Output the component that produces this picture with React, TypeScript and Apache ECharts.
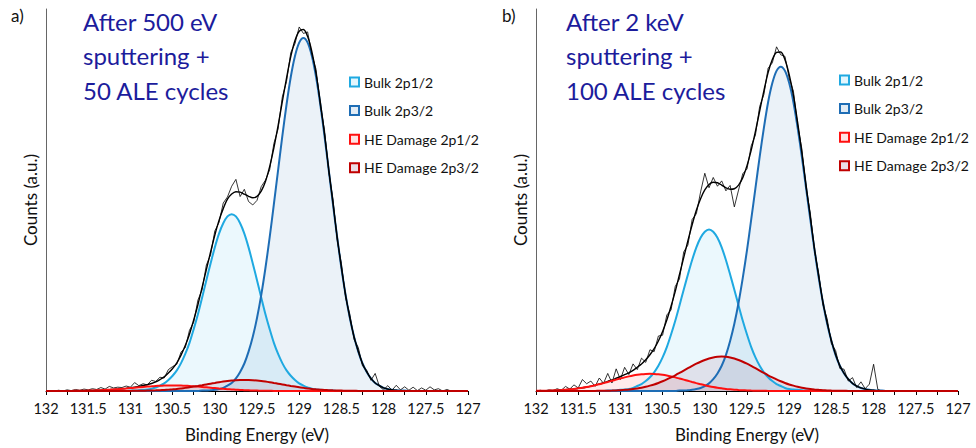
import React, { useEffect, useRef } from "react";
import * as echarts from "echarts";

// Binding energy grid (eV), shared by every series
const ENERGY = [
  132, 131.95, 131.9, 131.85, 131.8, 131.75, 131.7, 131.65, 131.6, 131.55,
  131.5, 131.45, 131.4, 131.35, 131.3, 131.25, 131.2, 131.15, 131.1, 131.05,
  131, 130.95, 130.9, 130.85, 130.8, 130.75, 130.7, 130.65, 130.6, 130.55,
  130.5, 130.45, 130.4, 130.35, 130.3, 130.25, 130.2, 130.15, 130.1, 130.05,
  130, 129.95, 129.9, 129.85, 129.8, 129.75, 129.7, 129.65, 129.6, 129.55,
  129.5, 129.45, 129.4, 129.35, 129.3, 129.25, 129.2, 129.15, 129.1, 129.05,
  129, 128.95, 128.9, 128.85, 128.8, 128.75, 128.7, 128.65, 128.6, 128.55,
  128.5, 128.45, 128.4, 128.35, 128.3, 128.25, 128.2, 128.15, 128.1, 128.05,
  128, 127.95, 127.9, 127.85, 127.8, 127.75, 127.7, 127.65, 127.6, 127.55,
  127.5, 127.45, 127.4, 127.35, 127.3, 127.25, 127.2, 127.15, 127.1, 127.05,
  127,
];

// ---------- Panel a) After 500 eV sputtering + 50 ALE cycles ----------
const A_BULK_2P12 = [
  0, 0, 0, 0, 0, 0, 0, 0, 0, 0,
  0, 0, 0, 0, 0, 0, 0, 0, 0, 0,
  0.1, 0.1, 0.2, 0.3, 0.4, 0.6, 0.9, 1.4, 2.0, 2.9,
  4.0, 5.4, 7.3, 9.7, 12.6, 16.2, 20.1, 24.5, 29.0, 33.4,
  37.6, 41.2, 43.9, 45.7, 46.3, 45.7, 43.9, 41.2, 37.6, 33.4,
  29.0, 24.5, 20.1, 16.2, 12.6, 9.7, 7.3, 5.4, 4.0, 2.9,
  2.0, 1.4, 0.9, 0.6, 0.4, 0.3, 0.2, 0.1, 0.1, 0,
  0, 0, 0, 0, 0, 0, 0, 0, 0, 0,
  0, 0, 0, 0, 0, 0, 0, 0, 0, 0,
  0, 0, 0, 0, 0, 0, 0, 0, 0, 0,
  0,
];
const A_BULK_2P32 = [
  0, 0, 0, 0, 0, 0, 0, 0, 0, 0,
  0, 0, 0, 0, 0, 0, 0, 0, 0, 0,
  0, 0, 0, 0, 0, 0, 0, 0, 0, 0,
  0, 0, 0, 0, 0, 0, 0, 0.1, 0.1, 0.2,
  0.3, 0.5, 0.8, 1.4, 2.1, 3.3, 5.0, 7.2, 10.3, 14.2,
  19.1, 25.1, 32.2, 40.2, 48.9, 57.8, 66.7, 75.0, 82.2, 87.7,
  91.2, 92.4, 91.2, 87.7, 82.2, 75.0, 66.7, 57.8, 48.9, 40.2,
  32.2, 25.1, 19.1, 14.2, 10.3, 7.2, 5.0, 3.3, 2.1, 1.4,
  0.8, 0.5, 0.3, 0.2, 0.1, 0.1, 0, 0, 0, 0,
  0, 0, 0, 0, 0, 0, 0, 0, 0, 0,
  0,
];
const A_DMG_2P12 = [
  0, 0, 0, 0, 0.02, 0.03, 0.03, 0.05, 0.06, 0.08,
  0.11, 0.14, 0.18, 0.22, 0.28, 0.34, 0.41, 0.49, 0.57, 0.66,
  0.76, 0.86, 0.96, 1.06, 1.15, 1.23, 1.31, 1.37, 1.41, 1.44,
  1.45, 1.44, 1.41, 1.37, 1.31, 1.23, 1.15, 1.06, 0.96, 0.86,
  0.76, 0.66, 0.57, 0.49, 0.41, 0.34, 0.28, 0.22, 0.18, 0.14,
  0.11, 0.08, 0.06, 0.05, 0.03, 0.03, 0.02, 0, 0, 0,
  0, 0, 0, 0, 0, 0, 0, 0, 0, 0,
  0, 0, 0, 0, 0, 0, 0, 0, 0, 0,
  0, 0, 0, 0, 0, 0, 0, 0, 0, 0,
  0, 0, 0, 0, 0, 0, 0, 0, 0, 0,
  0,
];
const A_DMG_2P32 = [
  0, 0, 0, 0, 0, 0, 0, 0, 0, 0,
  0, 0, 0, 0, 0, 0, 0, 0, 0, 0.02,
  0.03, 0.04, 0.05, 0.07, 0.10, 0.13, 0.17, 0.22, 0.28, 0.36,
  0.45, 0.55, 0.68, 0.82, 0.97, 1.15, 1.33, 1.52, 1.72, 1.92,
  2.11, 2.30, 2.47, 2.62, 2.74, 2.83, 2.88, 2.90, 2.88, 2.83,
  2.74, 2.62, 2.47, 2.30, 2.11, 1.92, 1.72, 1.52, 1.33, 1.15,
  0.97, 0.82, 0.68, 0.55, 0.45, 0.36, 0.28, 0.22, 0.17, 0.13,
  0.10, 0.07, 0.05, 0.04, 0.03, 0.02, 0, 0, 0, 0,
  0, 0, 0, 0, 0, 0, 0, 0, 0, 0,
  0, 0, 0, 0, 0, 0, 0, 0, 0, 0,
  0,
];
const A_FIT = [
  0, 0, 0, 0, 0.02, 0.03, 0.03, 0.05, 0.06, 0.08,
  0.11, 0.14, 0.18, 0.22, 0.28, 0.34, 0.41, 0.49, 0.57, 0.68,
  0.89, 1.0, 1.21, 1.43, 1.65, 1.96, 2.38, 2.99, 3.69, 4.7,
  5.9, 7.39, 9.39, 11.89, 14.88, 18.58, 22.58, 27.18, 31.78, 36.38,
  40.77, 44.66, 47.74, 50.21, 51.55, 52.17, 52.06, 51.52, 50.96, 50.57,
  50.95, 52.3, 54.83, 58.75, 63.64, 69.45, 75.74, 81.92, 87.53, 91.75,
  94.17, 94.62, 92.78, 88.85, 83.05, 75.66, 67.18, 58.12, 49.17, 40.33,
  32.3, 25.17, 19.15, 14.24, 10.33, 7.22, 5.0, 3.3, 2.1, 1.4,
  0.8, 0.5, 0.3, 0.2, 0.1, 0.1, 0, 0, 0, 0,
  0, 0, 0, 0, 0, 0, 0, 0, 0, 0,
  0,
];
const A_RAW = [
  0, 0.1, 0, 0.2, 0, 0.3, 0.1, 0.4, 0.2, 0.5,
  0.3, 0.6, 0.4, 0.9, 0.5, 1.2, 0.8, 1.0, 0.9, 1.3,
  1.0, 2.2, 1.4, 1.9, 1.6, 2.8, 2.5, 3.6, 3.4, 5.6,
  6.4, 7.0, 10.2, 11.3, 15.9, 18.0, 23.8, 26.5, 33.0, 35.6,
  41.9, 44.1, 49.2, 50.8, 53.6, 55.4, 50.9, 52.8, 49.6, 48.7,
  49.9, 53.5, 55.2, 57.9, 64.8, 68.6, 77.0, 81.0, 88.6, 90.9,
  95.3, 93.6, 94.0, 88.0, 84.2, 74.7, 68.3, 57.2, 50.3, 39.4,
  33.4, 24.3, 20.1, 13.5, 11.4, 6.6, 5.4, 2.8, 4.6, 1.2,
  0.3, 1.4, 0.2, 1.5, 0.3, 1.1, 0.2, 1.0, 0.1, 0.8,
  0.2, 1.1, 0.3, 0.6, 0, 0.4, 0, 0, 0, 0,
  0,
];

// ---------- Panel b) After 2 keV sputtering + 100 ALE cycles ----------
const B_BULK_2P12 = [
  0, 0, 0, 0, 0, 0, 0, 0, 0, 0,
  0, 0, 0, 0, 0, 0, 0, 0.1, 0.1, 0.2,
  0.3, 0.4, 0.5, 0.8, 1.3, 1.8, 2.6, 3.6, 4.9, 6.6,
  8.8, 11.5, 14.8, 18.4, 22.4, 26.5, 30.5, 34.3, 37.6, 40.1,
  41.7, 42.3, 41.7, 40.1, 37.6, 34.3, 30.5, 26.5, 22.4, 18.4,
  14.8, 11.5, 8.8, 6.6, 4.9, 3.6, 2.6, 1.8, 1.3, 0.8,
  0.5, 0.4, 0.3, 0.2, 0.1, 0.1, 0, 0, 0, 0,
  0, 0, 0, 0, 0, 0, 0, 0, 0, 0,
  0, 0, 0, 0, 0, 0, 0, 0, 0, 0,
  0, 0, 0, 0, 0, 0, 0, 0, 0, 0,
  0,
];
const B_BULK_2P32 = [
  0, 0, 0, 0, 0, 0, 0, 0, 0, 0,
  0, 0, 0, 0, 0, 0, 0, 0, 0, 0,
  0, 0, 0, 0, 0, 0, 0, 0, 0, 0,
  0, 0, 0, 0, 0.1, 0.1, 0.2, 0.3, 0.5, 0.8,
  1.3, 2.0, 3.1, 4.6, 6.6, 9.4, 13.1, 17.6, 23.1, 29.6,
  36.9, 44.9, 53.1, 61.3, 68.9, 75.6, 80.6, 83.8, 84.9, 83.8,
  80.6, 75.6, 68.9, 61.3, 53.1, 44.9, 36.9, 29.6, 23.1, 17.6,
  13.1, 9.4, 6.6, 4.6, 3.1, 2.0, 1.3, 0.8, 0.5, 0.3,
  0.2, 0.1, 0.1, 0, 0, 0, 0, 0, 0, 0,
  0, 0, 0, 0, 0, 0, 0, 0, 0, 0,
  0,
];
const B_DMG_2P12 = [
  0.04, 0.06, 0.08, 0.11, 0.15, 0.20, 0.26, 0.34, 0.44, 0.55,
  0.70, 0.86, 1.05, 1.27, 1.51, 1.78, 2.06, 2.36, 2.67, 2.98,
  3.28, 3.57, 3.83, 4.06, 4.25, 4.39, 4.47, 4.50, 4.47, 4.39,
  4.25, 4.06, 3.83, 3.57, 3.28, 2.98, 2.67, 2.36, 2.06, 1.78,
  1.51, 1.27, 1.05, 0.86, 0.70, 0.55, 0.44, 0.34, 0.26, 0.20,
  0.15, 0.11, 0.08, 0.06, 0.04, 0.03, 0, 0, 0, 0,
  0, 0, 0, 0, 0, 0, 0, 0, 0, 0,
  0, 0, 0, 0, 0, 0, 0, 0, 0, 0,
  0, 0, 0, 0, 0, 0, 0, 0, 0, 0,
  0, 0, 0, 0, 0, 0, 0, 0, 0, 0,
  0,
];
const B_DMG_2P32 = [
  0, 0, 0, 0, 0, 0, 0, 0, 0, 0,
  0, 0, 0, 0, 0.03, 0.04, 0.06, 0.08, 0.11, 0.16,
  0.22, 0.30, 0.40, 0.52, 0.68, 0.87, 1.11, 1.40, 1.72, 2.11,
  2.54, 3.02, 3.56, 4.12, 4.72, 5.34, 5.96, 6.56, 7.14, 7.66,
  8.12, 8.50, 8.78, 8.95, 9.00, 8.95, 8.78, 8.50, 8.12, 7.66,
  7.14, 6.56, 5.96, 5.34, 4.72, 4.12, 3.56, 3.02, 2.54, 2.11,
  1.72, 1.40, 1.11, 0.87, 0.68, 0.52, 0.40, 0.30, 0.22, 0.16,
  0.11, 0.08, 0.06, 0.04, 0.03, 0, 0, 0, 0, 0,
  0, 0, 0, 0, 0, 0, 0, 0, 0, 0,
  0, 0, 0, 0, 0, 0, 0, 0, 0, 0,
  0,
];
const B_FIT = [
  0.04, 0.06, 0.08, 0.11, 0.15, 0.20, 0.26, 0.34, 0.44, 0.55,
  0.70, 0.86, 1.05, 1.27, 1.54, 1.82, 2.12, 2.54, 2.88, 3.34,
  3.8, 4.27, 4.73, 5.38, 6.23, 7.06, 8.18, 9.5, 11.09, 13.1,
  15.59, 18.58, 22.19, 26.09, 30.5, 34.92, 39.33, 43.52, 47.3, 50.34,
  52.63, 54.07, 54.63, 54.51, 53.9, 53.2, 52.82, 52.94, 53.88, 55.86,
  58.99, 63.07, 67.94, 73.3, 78.56, 83.35, 86.76, 88.62, 88.74, 86.71,
  82.82, 77.4, 70.31, 62.37, 53.88, 45.52, 37.3, 29.9, 23.32, 17.76,
  13.21, 9.48, 6.66, 4.64, 3.13, 2.0, 1.3, 0.8, 0.5, 0.3,
  0.2, 0.1, 0.1, 0, 0, 0, 0, 0, 0, 0,
  0, 0, 0, 0, 0, 0, 0, 0, 0, 0,
  0,
];
const B_RAW = [
  0, 0.2, 0, 0.3, 0.1, 0.6, 0.2, 1.2, 0.5, 1.6,
  0.8, 3.0, 1.9, 2.6, 1.2, 3.4, 2.0, 4.6, 2.1, 5.8,
  3.0, 6.2, 4.3, 7.1, 5.6, 8.6, 7.5, 10.8, 10.3, 14.4,
  14.6, 19.9, 21.2, 27.4, 29.3, 36.4, 38.2, 44.9, 46.4, 52.1,
  57.0, 53.2, 55.9, 53.6, 55.0, 52.4, 53.8, 48.2, 52.6, 56.9,
  58.1, 64.2, 67.0, 74.5, 77.6, 84.5, 85.9, 90.1, 88.0, 87.6,
  81.9, 78.5, 69.5, 63.4, 53.0, 46.6, 36.5, 30.8, 22.5, 18.9,
  12.4, 10.6, 5.9, 5.7, 2.6, 3.5, 0.9, 2.4, 0.6, 1.8,
  7.0, 0.4, 0, 0, 0, 0, 0, 0, 0, 0,
  0, 0, 0, 0, 0, 0, 0, 0, 0, 0,
  0,
];

const SERIES_NAMES = ["Bulk 2p1/2", "Bulk 2p3/2", "HE Damage 2p1/2", "HE Damage 2p3/2"];
const PANEL_LABELS = ["a)", "b)"];
const PANEL_TITLES = [
  "After 500 eV\nsputtering +\n50 ALE cycles",
  "After 2 keV\nsputtering +\n100 ALE cycles",
];
const X_NAME = "Binding Energy (eV)";
const Y_NAME = "Counts (a.u.)";

const FONT = "Lato, 'Open Sans', sans-serif";
const STYLES = [
  { line: "#1FA9E1", fill: "rgba(0,170,235,0.11)" },
  { line: "#1E6DB5", fill: "rgba(30,109,181,0.13)" },
  { line: "#FF1010", fill: "rgba(255,0,0,0.11)" },
  { line: "#C00000", fill: "rgba(110,20,70,0.14)" },
];

const pairs = (arr: number[]) => ENERGY.map((e, i) => [e, arr[i]]);

export default function App() {
  const ref = useRef<HTMLDivElement>(null);

  useEffect(() => {
    if (!ref.current) return;
    const chart = echarts.init(ref.current, null, { renderer: "svg" });

    const panels = [
      { comps: [A_BULK_2P12, A_BULK_2P32, A_DMG_2P12, A_DMG_2P32], fit: A_FIT, raw: A_RAW },
      { comps: [B_BULK_2P12, B_BULK_2P32, B_DMG_2P12, B_DMG_2P32], fit: B_FIT, raw: B_RAW },
    ];

    const grids = [
      { left: 46, right: 508, top: 9, bottom: 57 },
      { left: 536, right: 18, top: 9, bottom: 57 },
    ];

    const xAxes: any[] = [];
    const yAxes: any[] = [];
    grids.forEach((_, g) => {
      xAxes.push({
        type: "value",
        gridIndex: g,
        min: 127,
        max: 132,
        interval: 0.25,
        inverse: true,
        axisLine: { show: true, onZero: false, lineStyle: { color: "#000", width: 1 } },
        axisTick: { show: true, length: 4, lineStyle: { color: "#000" } },
        axisLabel: {
          fontSize: 14.5,
          fontFamily: FONT,
          color: "#111",
          margin: 10,
          formatter: (v: number) => (Math.round(v * 100) % 50 === 0 ? String(v) : ""),
        },
        splitLine: { show: false },
        name: X_NAME,
        nameLocation: "middle",
        nameGap: 35,
        nameTextStyle: { fontSize: 17, fontFamily: FONT, color: "#111" },
      });
      xAxes.push({
        type: "value",
        gridIndex: g,
        min: 127,
        max: 132,
        interval: 0.25,
        inverse: true,
        axisLine: { show: false },
        axisTick: { show: true, inside: true, length: 4, lineStyle: { color: "#000" } },
        axisLabel: { show: false },
        splitLine: { show: false },
      });
      yAxes.push({
        type: "value",
        gridIndex: g,
        min: 0,
        max: 100,
        axisLine: { show: true, onZero: false, lineStyle: { color: "#666", width: 1 } },
        axisTick: { show: false },
        axisLabel: { show: false },
        splitLine: { show: false },
        name: Y_NAME,
        nameLocation: "middle",
        nameGap: 7,
        nameTextStyle: { fontSize: 17, fontFamily: FONT, color: "#111" },
      });
    });

    const series: any[] = [];
    panels.forEach((p, g) => {
      const xi = g * 2;
      const compSeries = (k: number) => ({
        type: "line",
        name: SERIES_NAMES[k],
        xAxisIndex: xi,
        yAxisIndex: g,
        data: pairs(p.comps[k]),
        smooth: 0.3,
        symbol: "none",
        silent: true,
        lineStyle: { color: STYLES[k].line, width: 2 },
        itemStyle: { color: STYLES[k].line },
        areaStyle: { color: STYLES[k].fill, origin: "start" },
      });
      series.push(compSeries(0));
      series.push(compSeries(1));
      series.push({
        type: "line",
        name: "Fit",
        xAxisIndex: xi,
        yAxisIndex: g,
        data: pairs(p.fit),
        smooth: 0.3,
        symbol: "none",
        silent: true,
        lineStyle: { color: "#000", width: 1.4 },
      });
      series.push({
        type: "line",
        name: "Raw",
        xAxisIndex: xi,
        yAxisIndex: g,
        data: pairs(p.raw),
        symbol: "none",
        silent: true,
        lineStyle: { color: "#000", width: 0.8 },
      });
      series.push(compSeries(2));
      series.push(compSeries(3));
    });

    const legendData = SERIES_NAMES.map((n, k) => ({
      name: n,
      icon: "rect",
      itemStyle: { color: STYLES[k].fill, borderColor: STYLES[k].line, borderWidth: 2 },
    }));
    const legendBase = {
      orient: "vertical",
      padding: 0,
      itemWidth: 9,
      itemHeight: 9,
      itemGap: 12.6,
      selectedMode: false,
      textStyle: { fontSize: 14, fontFamily: FONT, color: "#111", lineHeight: 16 },
      data: legendData,
    };

    const titleStyle = { fontSize: 24, lineHeight: 34.5, color: "#1c1c9c", fontWeight: "normal", fontFamily: FONT };
    const labelStyle = { fontSize: 17, color: "#111", fontWeight: "normal", fontFamily: FONT };

    chart.setOption({
      animation: false,
      backgroundColor: "#fff",
      title: [
        { text: PANEL_LABELS[0], left: 11, top: 7, padding: 0, textStyle: labelStyle },
        { text: PANEL_TITLES[0], left: 83, top: 4, padding: 0, textStyle: titleStyle },
        { text: PANEL_LABELS[1], left: 502, top: 7, padding: 0, textStyle: labelStyle },
        { text: PANEL_TITLES[1], left: 566, top: 4, padding: 0, textStyle: titleStyle },
      ],
      legend: [
        { ...legendBase, left: 349, top: 74 },
        { ...legendBase, left: 839, top: 72 },
      ],
      grid: grids,
      xAxis: xAxes,
      yAxis: yAxes,
      series,
    });

    return () => chart.dispose();
  }, []);

  return (
    <div
      ref={ref}
      style={{ position: "absolute", left: 0, top: 0, width: 976, height: 448 }}
    />
  );
}
